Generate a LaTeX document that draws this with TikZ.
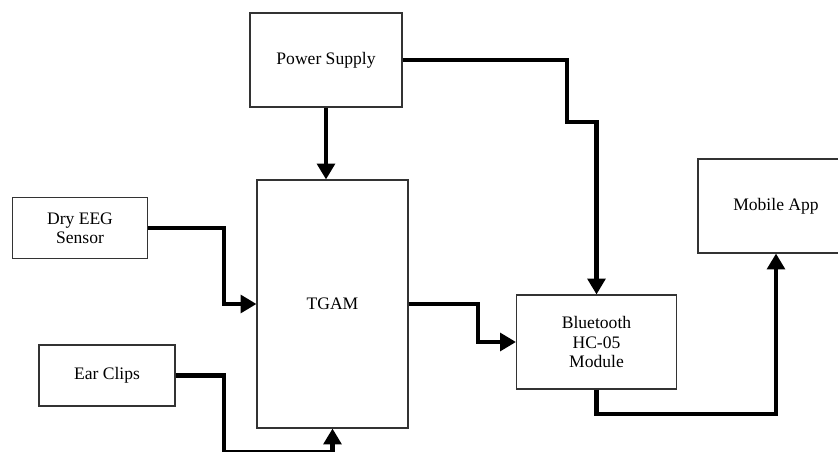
\documentclass[tikz,border=0pt]{standalone}
\usepackage{fontspec}
\setmainfont{Liberation Serif}
\usepackage{tikz}
\usetikzlibrary{arrows.meta}

\begin{document}
\begin{tikzpicture}[x=0.02cm,y=-0.02cm,
        block/.style={draw=black!80,line width=0.6pt,rectangle,align=center,
            font=\fontsize{10}{11}\selectfont,inner sep=0pt},
        link/.style={line width=2.3pt,-{Triangle[length=9pt,width=10pt]}}]
        \useasboundingbox (0,0) rectangle (838,452);
        \clip (0,0) rectangle (838,452);

        % Draw the blocks
        \node[block,minimum width=152*0.02cm,minimum height=94*0.02cm] (power) at (326,60) {Power Supply};
        \node[block,minimum width=151*0.02cm,minimum height=248*0.02cm] (tgam) at (332.5,304) {TGAM};
        \node[block,minimum width=135*0.02cm,minimum height=61*0.02cm] (eeg) at (80,228) {Dry EEG\\Sensor};
        \node[block,minimum width=136*0.02cm,minimum height=61*0.02cm] (ear) at (107,375.5) {Ear Clips};
        \node[block,minimum width=160*0.02cm,minimum height=94*0.02cm] (bt) at (596.5,342) {Bluetooth\\HC-05\\Module};
        \node[block,minimum width=156*0.02cm,minimum height=94*0.02cm] (mobile) at (776,206) {Mobile App};

        % Draw links from power supply
        \draw[link] (power.south) -- (power.south |- tgam.north);
        \draw[link] (power.east) -| ++(164,62) -| (bt.north);

        % Draw links into TGAM
        \draw[link] (eeg.east) -| ++(75.5,76) -- (tgam.west);
        \draw[link] (ear.east) -| ++(48,76.5) -| (tgam.south);

        % Draw links to the app
        \draw[link] (tgam.east) -| ++(69.5,38) -- (bt.west);
        \draw[link] (bt.south) -- ++(0,24) -| (mobile.south);
    \end{tikzpicture}
\end{document}
